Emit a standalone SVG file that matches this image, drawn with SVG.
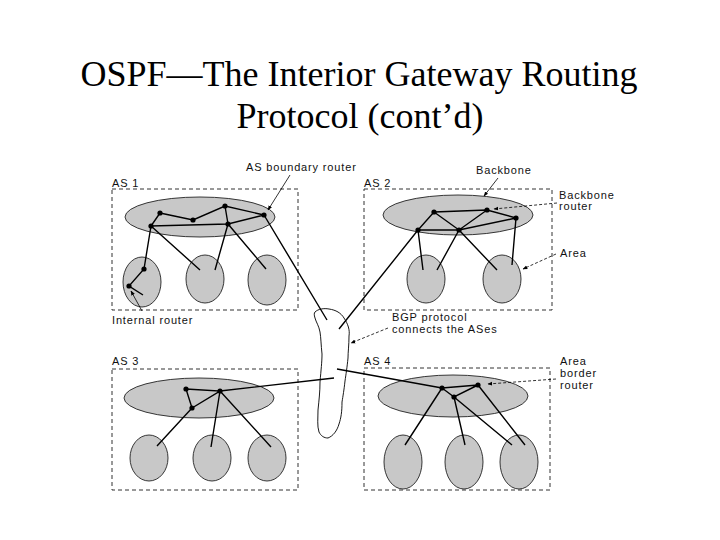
<svg xmlns="http://www.w3.org/2000/svg" width="720" height="540" viewBox="0 0 720 540">
<defs>
<style>
.title{font-family:"Liberation Serif","Times New Roman",serif;font-size:36px;fill:#000}
.lbl{font-family:"Liberation Sans",Arial,sans-serif;font-size:11px;letter-spacing:0.85px;fill:#111}
.box{fill:none;stroke:#333;stroke-width:1;stroke-dasharray:4,3}
.bb{fill:#c8c8c8;stroke:#222;stroke-width:0.9}
.area{fill:#c8c8c8;stroke:#222;stroke-width:0.9}
.ln{stroke:#000;stroke-width:1.4;fill:none}
.ptr{stroke:#000;stroke-width:0.8;fill:none;marker-end:url(#ah)}
.rt{fill:#000}
</style>
<marker id="ah" viewBox="0 0 10 10" refX="9" refY="5" markerWidth="6" markerHeight="6" orient="auto">
<path d="M0,1 L10,5 L0,9 z" fill="#000"/>
</marker>
</defs>
<rect width="720" height="540" fill="#fff"/>
<text class="title" x="359" y="86" text-anchor="middle">OSPF—The Interior Gateway Routing</text>
<text class="title" x="360" y="128" text-anchor="middle">Protocol (cont’d)</text>

<g id="as1">
<rect class="box" x="112" y="189" width="186" height="121"/>
<text class="lbl" x="112" y="187">AS 1</text>
<ellipse class="bb" cx="200" cy="217" rx="75" ry="20"/>
<ellipse class="area" cx="142" cy="282" rx="19" ry="25"/>
<ellipse class="area" cx="205" cy="279" rx="19" ry="24"/>
<ellipse class="area" cx="267" cy="280" rx="19" ry="25"/>
</g>
<g id="as2">
<rect class="box" x="364" y="189" width="188" height="121"/>
<text class="lbl" x="364" y="187">AS 2</text>
<ellipse class="bb" cx="458" cy="215" rx="75" ry="20"/>
<ellipse class="area" cx="426" cy="279" rx="19" ry="24"/>
<ellipse class="area" cx="502" cy="279" rx="19" ry="24"/>
</g>
<g id="as3">
<rect class="box" x="112" y="369" width="186" height="121"/>
<text class="lbl" x="112" y="365">AS 3</text>
<ellipse class="bb" cx="199" cy="398" rx="75" ry="20"/>
<ellipse class="area" cx="149" cy="458" rx="19" ry="23"/>
<ellipse class="area" cx="212" cy="458" rx="19" ry="23"/>
<ellipse class="area" cx="267" cy="458" rx="19" ry="23"/>
</g>
<g id="as4">
<rect class="box" x="364" y="368" width="186" height="122"/>
<text class="lbl" x="364" y="365">AS 4</text>
<ellipse class="bb" cx="453" cy="396" rx="75" ry="21"/>
<ellipse class="area" cx="403" cy="462" rx="19" ry="27"/>
<ellipse class="area" cx="464" cy="462" rx="19" ry="27"/>
<ellipse class="area" cx="519" cy="462" rx="19" ry="27"/>
</g>
<g id="bgp">
<path d="M315,312 C318,309 324,308 329,309 C336,310 341,313 344,318 C348,324 350,330 349,336 C349,345 348,352 348,358 C347,368 346,374 345,381 C344,390 343,396 342,402 C342,412 341,418 339,424 C337,431 333,436 328,438 C324,438 321,436 319,432 C317,426 318,418 318,410 C319,400 320,392 320,382 C321,370 322,362 322,354 C321,345 321,338 320,332 C319,326 316,322 315,318 C314,315 314,313 315,312 z" fill="#fff" stroke="#000" stroke-width="0.9"/>
</g>

<g id="connectors">
<path class="ln" d="M160,213 L193,220 L225,206 L264,215 M160,213 L151,226 L228,224 L264,215 M225,206 L228,224"/>
<path class="ln" d="M151,226 L144,269 L129,286 L143,295 M151,226 L200,270 M228,224 L215,270 M228,224 L266,269 M264,215 L327,320"/>
<path class="ln" d="M434,212 L487,210 L516,218 M434,212 L418,230 L459,230 L516,218 M434,212 L459,230 L487,210"/>
<path class="ln" d="M418,230 L423,270 M459,230 L437,270 M459,230 L497,270 M516,218 L512,265 M418,230 L339,329"/>
<path class="ln" d="M186,389 L220,391 L192,408 L186,389 M220,391 L334,378 M192,408 L157,446 M220,391 L211,447 M220,391 L271,447"/>
<path class="ln" d="M337,369 L442,388 L478,385 L454,397 L442,388 M442,388 L405,445 M454,397 L465,445 M454,397 L512,445 M478,385 L525,445"/>
<g class="rt">
<circle cx="160" cy="213" r="2.6"/><circle cx="225" cy="206" r="2.6"/><circle cx="264" cy="215" r="2.6"/>
<circle cx="193" cy="220" r="2.6"/><circle cx="228" cy="224" r="2.6"/><circle cx="151" cy="226" r="2.6"/>
<circle cx="144" cy="269" r="2.6"/><circle cx="129" cy="286" r="2.6"/>
<circle cx="434" cy="212" r="2.6"/><circle cx="487" cy="210" r="2.6"/><circle cx="516" cy="218" r="2.6"/>
<circle cx="418" cy="230" r="2.6"/><circle cx="459" cy="230" r="2.6"/>
<circle cx="186" cy="389" r="2.6"/><circle cx="220" cy="391" r="2.6"/><circle cx="192" cy="408" r="2.6"/>
<circle cx="442" cy="388" r="2.6"/><circle cx="478" cy="385" r="2.6"/><circle cx="454" cy="397" r="2.6"/>
</g>
<path class="ptr" d="M290,175 L268,210"/>
<path class="ptr" d="M142,311 L131,291"/>
<path class="ptr" d="M498,178 L484,196"/>
<path class="ptr" d="M557,203 L494,209" stroke-dasharray="3,2"/>
<path class="ptr" d="M556,254 L523,269" stroke-dasharray="3,2"/>
<path class="ptr" d="M388,328 L351,343" stroke-dasharray="3,2"/>
<path class="ptr" d="M556,379 L488,384" stroke-dasharray="3,2"/>
</g>

<g id="labels">
<text class="lbl" x="246" y="171">AS boundary router</text>
<text class="lbl" x="112" y="324">Internal router</text>
<text class="lbl" x="476" y="174">Backbone</text>
<text class="lbl" x="559" y="199">Backbone</text>
<text class="lbl" x="559" y="210">router</text>
<text class="lbl" x="560" y="257">Area</text>
<text class="lbl" x="392" y="321">BGP protocol</text>
<text class="lbl" x="392" y="333">connects the ASes</text>
<text class="lbl" x="560" y="365">Area</text>
<text class="lbl" x="560" y="377">border</text>
<text class="lbl" x="560" y="389">router</text>
</g>
</svg>
